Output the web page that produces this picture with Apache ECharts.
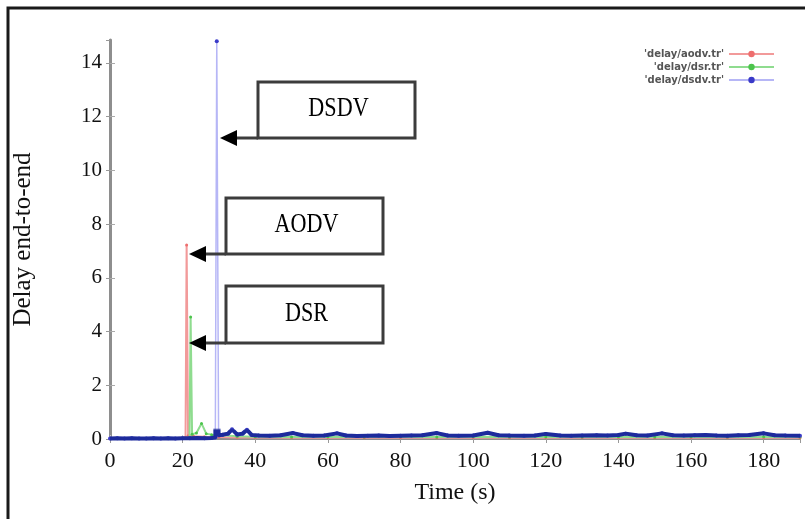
<!DOCTYPE html>
<html>
<head>
<meta charset="utf-8">
<script src="https://cdn.jsdelivr.net/npm/echarts@6/dist/echarts.min.js"></script>
<style>
  html, body { margin: 0; padding: 0; background: #fff; }
  #chart { width: 805px; height: 519px; }
</style>
</head>
<body>
<div id="chart"></div>
<script>
// time (s) / delay readings, one pair of arrays per trace file
const aodvTime = [19, 20.8, 21.1, 21.5, 23, 26, 30, 35, 40, 50, 60, 70, 80, 90, 100, 110, 120, 130, 140, 150, 160, 170, 180, 190]
const aodvDelay = [0.03, 0.06, 7.22, 0.12, 0.1, 0.08, 0.07, 0.06, 0.06, 0.05, 0.06, 0.05, 0.06, 0.05, 0.06, 0.05, 0.06, 0.05, 0.06, 0.05, 0.06, 0.05, 0.06, 0.05]

const dsrTime = [20, 21.9, 22.2, 22.6, 23.8, 25.2, 26.5, 28, 31, 35, 40, 50, 60, 70, 80, 90, 100, 110, 120, 130, 140, 150, 160, 170, 180, 190]
const dsrDelay = [0.03, 0.06, 4.54, 0.18, 0.22, 0.58, 0.2, 0.16, 0.14, 0.1, 0.08, 0.07, 0.08, 0.07, 0.08, 0.07, 0.08, 0.07, 0.08, 0.07, 0.08, 0.07, 0.08, 0.07, 0.08, 0.07]

const dsdvTime = [0, 2, 4, 6, 8, 10, 12, 14, 16, 18, 20, 22, 24, 26, 28, 29, 29.4, 29.9, 31, 32.5, 33.6, 35, 36.5, 37.7, 39,
  41, 44, 47, 50.4, 53, 56, 59, 62.5, 65, 68, 71, 74, 77, 80, 83, 86, 90, 93, 96, 100, 104, 107, 110, 114, 117, 120,
  124, 127, 130, 134, 137, 140, 142, 145, 148, 152, 155, 158, 161, 164, 167, 170, 173, 176, 180, 183, 186, 190]
const dsdvDelay = [0.02, 0.03, 0.02, 0.03, 0.02, 0.02, 0.03, 0.02, 0.03, 0.02, 0.03, 0.03, 0.04, 0.03, 0.04, 0.06, 14.8, 0.14, 0.16, 0.2, 0.36, 0.17, 0.2, 0.34, 0.15,
  0.13, 0.12, 0.14, 0.22, 0.14, 0.12, 0.13, 0.21, 0.13, 0.11, 0.12, 0.13, 0.11, 0.12, 0.13, 0.14, 0.22, 0.13, 0.12, 0.13, 0.23, 0.14, 0.13, 0.12, 0.13, 0.19,
  0.13, 0.12, 0.13, 0.14, 0.13, 0.15, 0.2, 0.14, 0.13, 0.21, 0.14, 0.13, 0.14, 0.15, 0.13, 0.12, 0.14, 0.15, 0.21, 0.14, 0.13, 0.12]

const legendNames = { aodv: "'delay/aodv.tr'", dsr: "'delay/dsr.tr'", dsdv: "'delay/dsdv.tr'" }

const pairs = (xs, ys) => xs.map((x, i) => [x, ys[i]])

const serif = 'Liberation Serif'
const axisGray = '#8e8e8e'

// annotation boxes: label, box rect, arrow tip x
const notes = [
  { text: 'DSDV', x: 258, y: 82, w: 157, h: 56, tip: 220 },
  { text: 'AODV', x: 226, y: 198, w: 157, h: 56, tip: 189 },
  { text: 'DSR', x: 226, y: 286, w: 157, h: 57, tip: 189 },
]

function noteGraphics() {
  const out = []
  notes.forEach(n => {
    const by = n.y + n.h
    out.push({
      type: 'rect', z: 100,
      shape: { x: n.x, y: n.y, width: n.w, height: n.h },
      style: { fill: '#fff', stroke: '#3c3c3c', lineWidth: 3 },
    })
    out.push({
      type: 'line', z: 100,
      shape: { x1: n.tip + 14, y1: by, x2: n.x, y2: by },
      style: { stroke: '#3c3c3c', lineWidth: 3 },
    })
    out.push({
      type: 'polygon', z: 101,
      shape: { points: [[n.tip, by], [n.tip + 17, by - 8], [n.tip + 17, by + 8]] },
      style: { fill: '#000' },
    })
    out.push({
      type: 'text', z: 102,
      x: n.x + n.w / 2 + 2, y: n.y + n.h / 2 - 1, scaleX: 0.82,
      style: {
        text: n.text, fill: '#000', font: `27px "${serif}"`,
        textAlign: 'center', textVerticalAlign: 'middle',
      },
    })
  })
  return out
}

// floor of the dsdv trace: dark where the point markers pile up, fading out above
const floorColor = new echarts.graphic.LinearGradient(0, 428, 0, 430, [
  { offset: 0, color: 'rgba(29,43,156,0)' },
  { offset: 1, color: '#1d2b9c' },
], true)

const chart = echarts.init(document.getElementById('chart'))

chart.setOption({
  backgroundColor: '#fff',
  animation: false,
  grid: { left: 110, right: 5, top: 40, bottom: 80 },
  legend: {
    data: ['aodv', 'dsr', 'dsdv'],
    orient: 'vertical',
    align: 'right',
    right: 25,
    top: 44,
    itemWidth: 45,
    itemHeight: 8,
    itemGap: 3,
    formatter: name => legendNames[name],
    textStyle: { fontSize: 10, lineHeight: 10, color: '#555', fontFamily: 'DejaVu Sans', fontWeight: 'bold' },
  },
  xAxis: [
    {
      type: 'value', min: 0, max: 190, interval: 20,
      name: 'Time (s)', nameLocation: 'middle', nameGap: 42,
      nameTextStyle: { fontFamily: serif, fontSize: 24, color: '#111' },
      axisLine: { lineStyle: { color: axisGray, width: 2 } },
      axisTick: { inside: true, length: 4, lineStyle: { color: '#c8c8c8' } },
      axisLabel: { fontFamily: serif, fontSize: 22, color: '#111', margin: 11, showMaxLabel: false },
      splitLine: { show: false },
    },
    {
      type: 'value', position: 'top', min: 0, max: 190, interval: 20,
      axisLine: { lineStyle: { color: axisGray, width: 2 } },
      axisTick: { inside: true, length: 4, lineStyle: { color: '#999' } },
      axisLabel: { show: false },
      splitLine: { show: false },
    },
  ],
  yAxis: [
    {
      type: 'value', min: 0, max: 14.85, interval: 2,
      name: 'Delay end-to-end', nameLocation: 'middle', nameGap: 74,
      nameTextStyle: { fontFamily: serif, fontSize: 25, color: '#111' },
      axisLine: { show: true, lineStyle: { color: axisGray, width: 3 } },
      axisTick: { show: true, inside: true, length: 5, lineStyle: { color: '#aaa' } },
      axisLabel: { fontFamily: serif, fontSize: 21, color: '#111', margin: 8, padding: [5, 0, 0, 0], showMaxLabel: false },
      splitLine: { show: false },
    },
    {
      type: 'value', position: 'right', min: 0, max: 14.85, interval: 2,
      axisLine: { show: true, lineStyle: { color: axisGray, width: 2 } },
      axisTick: { show: true, inside: true, length: 4, lineStyle: { color: '#999' } },
      axisLabel: { show: false },
      splitLine: { show: false },
    },
  ],
  series: [
    {
      name: 'aodv', type: 'line', data: pairs(aodvTime, aodvDelay),
      showSymbol: true, showAllSymbol: true, symbol: 'circle', symbolSize: 3,
      lineStyle: { color: '#f29a9a', width: 2 },
      itemStyle: { color: '#ee6e6e' },
      z: 2,
    },
    {
      name: 'dsr', type: 'line', data: pairs(dsrTime, dsrDelay),
      showSymbol: true, showAllSymbol: true, symbol: 'circle', symbolSize: 3,
      lineStyle: { color: '#8fdc8f', width: 2 },
      itemStyle: { color: '#4cc44c' },
      z: 3,
    },
    {
      name: 'dsdv', type: 'line', data: pairs(dsdvTime, dsdvDelay),
      showSymbol: true, showAllSymbol: true, symbol: 'circle', symbolSize: 4,
      lineStyle: { color: '#b6b6f6', width: 1.5 },
      itemStyle: { color: '#3a3ac8' },
      z: 4,
    },
    {
      name: 'dsdv-floor', type: 'line', data: pairs(dsdvTime, dsdvDelay),
      symbol: 'none',
      lineStyle: { width: 4, color: floorColor },
      z: 5,
    },
  ],
  graphic: [
    {
      type: 'rect', z: -1, silent: true,
      shape: { x: 8, y: 8, width: 820, height: 540 },
      style: { fill: 'none', stroke: '#1a1a1a', lineWidth: 3 },
    },
    ...noteGraphics(),
  ],
})
</script>
</body>
</html>
